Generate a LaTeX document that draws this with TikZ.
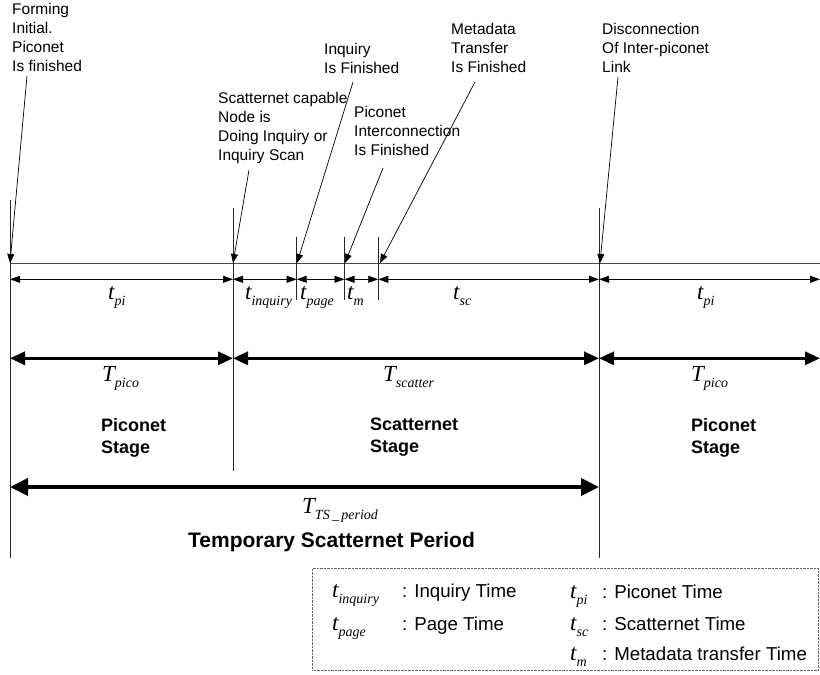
\documentclass[tikz,border=0pt]{standalone}
\usepackage{fontspec}
\setmainfont{Liberation Sans}
\newfontfamily\seriffam{Liberation Serif}
\usetikzlibrary{arrows.meta}

% time symbol with an italic subscript
\newcommand\tvar[2]{{\seriffam\itshape\fontsize{23}{23}\selectfont #1}\raisebox{-6pt}{\seriffam\itshape\fontsize{14}{14}\selectfont #2}}

\begin{document}
\begin{tikzpicture}[x=1pt,y=-1pt,
  event/.style={font=\fontsize{15.5}{19}\selectfont, align=left, anchor=north west, inner sep=0pt},
  stage/.style={font=\bfseries\fontsize{18}{22}\selectfont, align=left, anchor=north west, inner sep=0pt},
  sym/.style={anchor=base west, inner sep=0pt},
  legtext/.style={anchor=base west, inner sep=0pt, font=\fontsize{18.7}{22}\selectfont},
  rule/.style={line width=0.8pt, black!85},
  pointer/.style={line width=0.7pt, -{Triangle[length=9pt,width=7pt]}},
  span/.style={line width=0.8pt, {Triangle[length=10pt,width=7pt]}-{Triangle[length=10pt,width=7pt]}},
  phase/.style={line width=3pt, {Triangle[length=15pt,width=13pt]}-{Triangle[length=15pt,width=13pt]}},
  period/.style={line width=4pt, {Triangle[length=18pt,width=17pt]}-{Triangle[length=18pt,width=17pt]}}
]
\useasboundingbox (0,0) rectangle (820,675);

% event instants on the time axis
\coordinate (e0) at (10,263);
\coordinate (e1) at (233,263);
\coordinate (e2) at (296.7,263);
\coordinate (e3) at (344.5,263);
\coordinate (e4) at (378.3,263);
\coordinate (e5) at (599,263);
\coordinate (eEnd) at (820,263);

% time axis
\draw[line width=0.8pt, black!70] (e0) -- (eEnd);

% long vertical boundaries
\draw[rule] (10,200) -- (10,558);
\draw[rule] (233,208) -- (233,471);
\draw[rule] (599,208) -- (599,558);
% short ticks
\draw[rule] (296.7,237) -- (296.7,300);
\draw[rule] (344.5,237) -- (344.5,300);
\draw[rule] (378.3,237) -- (378.3,300);

% event descriptions
\node[event] (lForm) at (12,3) {Forming\\Initial.\\Piconet\\Is finished};
\node[event] (lScat) at (218,92) {Scatternet capable\\Node is\\Doing Inquiry or\\Inquiry Scan};
\node[event] (lInq) at (324,43) {Inquiry\\Is Finished};
\node[event] (lMeta) at (451,23) {Metadata\\Transfer\\Is Finished};
\node[event] (lPico) at (354,106) {Piconet\\Interconnection\\Is Finished};
\node[event] (lDisc) at (602,23) {Disconnection\\Of Inter-piconet\\Link};

% pointers from descriptions to instants
\coordinate (pForm) at (27,76);
\coordinate (pScat) at (249,170);
\coordinate (pInq) at (353,82);
\coordinate (pPico) at (383,168);
\coordinate (pMeta) at (475,82);
\coordinate (pDisc) at (618,77);
\coordinate (tInq) at (297,263);
\coordinate (tPico) at (345,263);
\coordinate (tMeta) at (380,263);
\coordinate (tDisc) at (600,263);
\draw[pointer] (pForm) -- (e0);
\draw[pointer] (pScat) -- (e1);
\draw[pointer] (pInq) -- (tInq);
\draw[pointer] (pPico) -- (tPico);
\draw[pointer] (pMeta) -- (tMeta);
\draw[pointer] (pDisc) -- (tDisc);

% fine time spans
\coordinate (s0) at (10,279.3);
\coordinate (s1) at (233,279.3);
\coordinate (s2) at (296.7,279.3);
\coordinate (s3) at (344.5,279.3);
\coordinate (s4) at (378.3,279.3);
\coordinate (s5) at (599,279.3);
\coordinate (s6) at (820,279.3);
\draw[span] (s0) -- (s1);
\draw[span] (s1) -- (s2);
\draw[span] (s2) -- (s3);
\draw[span] (s3) -- (s4);
\draw[span] (s4) -- (s5);
\draw[span] (s5) -- (s6);

\node[sym] (tpi1) at (108,299) {\tvar{t}{pi}};
\node[sym] (tinq) at (245,299) {\tvar{t}{inquiry}};
\node[sym] (tpage) at (300,299) {\tvar{t}{page}};
\node[sym] (tm) at (347,299) {\tvar{t}{m}};
\node[sym] (tsc) at (453,299) {\tvar{t}{sc}};
\node[sym] (tpi2) at (697,299) {\tvar{t}{pi}};

% stage spans
\coordinate (g0) at (10,358.3);
\coordinate (g1) at (233,358.3);
\coordinate (g2) at (599,358.3);
\coordinate (g3) at (820,358.3);
\draw[phase] (g0) -- (g1);
\draw[phase] (g1) -- (g2);
\draw[phase] (g2) -- (g3);

\node[sym] (Tp1) at (102,381) {\tvar{T}{pico}};
\node[sym] (Tsc) at (383,381) {\tvar{T}{scatter}};
\node[sym] (Tp2) at (691,381) {\tvar{T}{pico}};

\node[stage] (st1) at (101,418) {Piconet\\Stage};
\node[stage] (st2) at (370,418) {Scatternet\\Stage};
\node[stage] (st3) at (691,418) {Piconet\\Stage};

% whole temporary scatternet period
\coordinate (q0) at (10,487);
\coordinate (q1) at (599,487);
\draw[period] (q0) -- (q1);
\node[sym] (Tts) at (302,513) {\tvar{T}{TS\,\_\,period}};
\node[sym, font=\bfseries\fontsize{21}{24}\selectfont] (tsp) at (188,547) {Temporary Scatternet Period};

% legend
\node[draw=black!60, line width=0.6pt, dash pattern=on 0.7pt off 0.7pt, inner sep=0pt,
      minimum width=506pt, minimum height=102pt, anchor=north west] (legend) at (312,568) {};
\node[sym] (k1) at (332,597) {\tvar{t}{inquiry}};
\node[legtext] (v1) at (402,597) {: Inquiry Time};
\node[sym] (k2) at (332,630) {\tvar{t}{page}};
\node[legtext] (v2) at (402,630) {: Page Time};
\node[sym] (k3) at (570,598) {\tvar{t}{pi}};
\node[legtext] (v3) at (602,598) {: Piconet Time};
\node[sym] (k4) at (570,630) {\tvar{t}{sc}};
\node[legtext] (v4) at (602,630) {: Scatternet Time};
\node[sym] (k5) at (570,660) {\tvar{t}{m}};
\node[legtext] (v5) at (602,660) {: Metadata transfer Time};
\end{tikzpicture}
\end{document}
